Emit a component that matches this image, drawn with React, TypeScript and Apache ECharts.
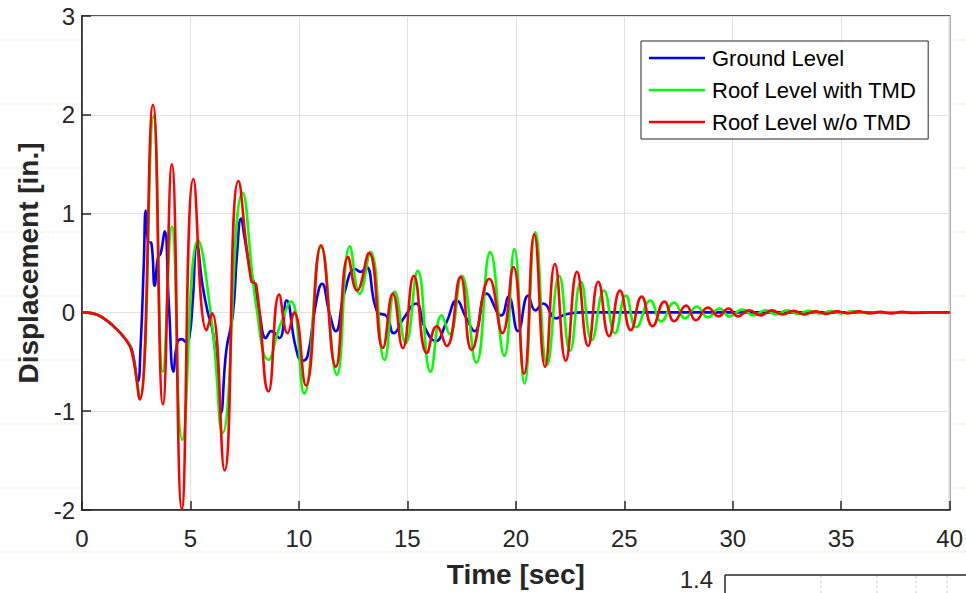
import React, { useEffect, useRef } from "react";
import * as echarts from "echarts";

const xTicks = [0, 5, 10, 15, 20, 25, 30, 35, 40];
const yTicks = [-2, -1, 0, 1, 2, 3];
const seriesNames = ["Ground Level", "Roof Level with TMD", "Roof Level w/o TMD"];

const groundLevel: [number, number][] = [
  [0, 0], [0.5, -0.01], [1.0, -0.06], [1.5, -0.15], [2.0, -0.27], [2.3, -0.38], [2.57, -0.7],
  [2.7, -0.35], [2.85, 0.5], [2.94, 1.03], [3.05, 0.72], [3.2, 0.7], [3.35, 0.27], [3.5, 0.55],
  [3.63, 0.6], [3.81, 0.82], [4.0, 0.1], [4.22, -0.6], [4.4, -0.3], [4.6, -0.27], [4.8, -0.3],
  [4.95, -0.25], [5.1, 0.1], [5.3, 0.68], [5.56, 0.27], [5.8, 0.0], [6.0, -0.16], [6.2, -0.5],
  [6.4, -1.02], [6.65, -0.39], [6.95, -0.03], [7.15, 0.6], [7.33, 0.95], [7.5, 0.75], [7.72, 0.47],
  [7.95, 0.27], [8.17, 0.01], [8.48, -0.26], [8.72, -0.19], [9.1, -0.26], [9.43, 0.12], [9.86, -0.36],
  [10.15, -0.49], [10.4, -0.44], [10.75, 0.05], [11.07, 0.29], [11.4, 0.0], [11.7, -0.19], [12.1, 0.2],
  [12.6, 0.44], [12.85, 0.41], [13.1, 0.46], [13.6, 0.01], [14.05, -0.04], [14.37, -0.21], [14.83, -0.06],
  [15.4, 0.09], [15.8, -0.15], [16.3, -0.29], [16.8, -0.1], [17.27, 0.12], [17.7, -0.05], [18.1, -0.19],
  [18.65, 0.19], [19.33, -0.03], [19.66, 0.16], [20.1, -0.19], [20.57, 0.17], [20.9, 0.02], [21.26, 0.09],
  [21.86, -0.06], [22.3, -0.02], [23.0, 0], [40, 0],
];

const roofWithTMD: [number, number][] = [
  [0, 0], [0.5, -0.01], [1.0, -0.06], [1.5, -0.15], [2.0, -0.27], [2.3, -0.4], [2.66, -0.87],
  [3.3, 1.98], [3.73, -0.6], [4.14, 0.87], [4.62, -1.29], [5.35, 0.73], [6.0, -0.13], [6.48, -1.22],
  [7.4, 1.21], [8.03, 0.07], [8.6, -0.48], [9.1, -0.15], [9.64, 0.11], [10.24, -0.82], [11.02, 0.66],
  [11.75, -0.63], [12.35, 0.67], [12.8, 0.19], [13.3, 0.61], [13.95, -0.48], [14.42, 0.21], [14.92, -0.31],
  [15.48, 0.42], [16.07, -0.6], [16.58, -0.03], [16.95, -0.22], [17.5, 0.37], [18.18, -0.51], [18.82, 0.61],
  [19.47, -0.44], [19.93, 0.64], [20.4, -0.72], [20.9, 0.81], [21.45, -0.53], [22.0, 0.37], [22.5, -0.39],
  [23.0, 0.31], [23.5, -0.28], [24.06, 0.22], [24.57, -0.21], [25.07, 0.17], [25.55, -0.15], [26.2, 0.12],
  [26.7, -0.09], [27.3, 0.1], [27.8, -0.06], [28.35, 0.06], [28.85, -0.05], [29.4, 0.04], [29.85, -0.04],
  [30.45, 0.03], [30.95, -0.03], [31.5, 0.02], [32.0, -0.02], [32.5, 0.02], [33.0, -0.015], [33.5, 0.015],
  [34.0, -0.01], [34.5, 0.01], [35.0, -0.01], [35.5, 0.01], [36.0, -0.005], [37.0, 0], [40, 0],
];

const roofWithoutTMD: [number, number][] = [
  [0, 0], [0.5, -0.01], [1.0, -0.06], [1.5, -0.15], [2.0, -0.27], [2.3, -0.4], [2.66, -0.88],
  [3.27, 2.1], [3.73, -0.93], [4.14, 1.5], [4.6, -1.99], [5.14, 1.35], [5.74, -0.18], [6.0, -0.01],
  [6.57, -1.6], [7.21, 1.33], [7.8, 0.32], [8.03, 0.28], [8.6, -0.8], [9.09, 0.18], [9.48, -0.21],
  [9.78, 0.0], [10.32, -0.74], [11.02, 0.68], [11.7, -0.55], [12.27, 0.56], [12.68, 0.22], [13.23, 0.6],
  [13.87, -0.36], [14.33, 0.19], [14.79, -0.36], [15.3, 0.37], [15.9, -0.41], [16.35, -0.14], [16.81, -0.34],
  [17.45, 0.36], [17.96, -0.38], [18.78, 0.34], [19.38, -0.21], [19.89, 0.46], [20.38, -0.62], [20.85, 0.79],
  [21.35, -0.55], [21.8, 0.49], [22.3, -0.49], [22.82, 0.41], [23.33, -0.34], [23.8, 0.31], [24.3, -0.24],
  [24.8, 0.22], [25.3, -0.18], [25.8, 0.16], [26.3, -0.14], [26.85, 0.11], [27.3, -0.09], [27.85, 0.07],
  [28.3, -0.08], [28.85, 0.05], [29.35, -0.04], [29.8, 0.04], [30.25, -0.04], [30.75, 0.02], [31.3, -0.03],
  [31.8, 0.02], [32.3, -0.02], [32.8, 0.015], [33.3, -0.02], [33.8, 0.01], [34.3, -0.015], [34.8, 0.01],
  [35.3, -0.01], [35.8, 0.01], [36.3, -0.01], [36.8, 0.005], [37.3, -0.01], [37.8, 0.005], [38.3, -0.005],
  [39.0, 0], [40, 0],
];

const FONT = "'Liberation Sans', Arial, Helvetica, sans-serif";
const AX = "#262626";

export default function App() {
  const ref = useRef<HTMLDivElement>(null);
  useEffect(() => {
    if (!ref.current) return;
    const chart = echarts.init(ref.current, null, { renderer: "svg" });
    const beige = { stroke: "#efe4d2", lineWidth: 1, lineDash: [2, 2] };
    const hLines = [40, 104, 168, 232, 296, 360, 424, 488, 552].map((y) => ({
      type: "line", z: -10, silent: true,
      shape: { x1: 0, y1: y, x2: 966, y2: y }, style: beige,
    }));
    const option: any = {
      animation: false,
      backgroundColor: "#ffffff",
      textStyle: { fontFamily: FONT },
      grid: {
        left: 82, top: 16, right: 13, bottom: 80, containLabel: false,
        show: true, backgroundColor: "#ffffff", borderColor: AX, borderWidth: 1.5, z: 0,
      },
      legend: {
        orient: "vertical", left: 641, top: 41,
        backgroundColor: "#ffffff", borderColor: AX, borderWidth: 1,
        padding: [6, 12, 6, 8], itemGap: 10, itemWidth: 56, itemHeight: 2.5,
        icon: "rect",
        textStyle: { fontSize: 22, lineHeight: 22, height: 22, color: "#000", fontFamily: FONT, padding: [0, 0, 0, 2] },
        data: seriesNames.map((n) => ({ name: n, icon: "rect" })),
      },
      xAxis: {
        type: "value", min: xTicks[0], max: xTicks[xTicks.length - 1], interval: 5,
        name: "Time [sec]", nameLocation: "middle", nameGap: 50,
        nameTextStyle: { fontSize: 28, fontWeight: "bold", color: AX, fontFamily: FONT },
        axisLine: { show: true, onZero: false, lineStyle: { color: AX, width: 1.5 } },
        axisTick: { show: true, inside: true, length: 9, lineStyle: { color: AX, width: 1.5 } },
        axisLabel: { fontSize: 24, color: AX, margin: 16, fontFamily: FONT },
        splitLine: { show: true, lineStyle: { color: "#e1e1e1", width: 1 } },
      },
      yAxis: {
        type: "value", min: yTicks[0], max: yTicks[yTicks.length - 1], interval: 1,
        name: "Displacement [in.]", nameLocation: "middle", nameGap: 40,
        nameTextStyle: { fontSize: 28, fontWeight: "bold", color: AX, fontFamily: FONT },
        axisLine: { show: true, onZero: false, lineStyle: { color: AX, width: 1.5 } },
        axisTick: { show: true, inside: true, length: 9, lineStyle: { color: AX, width: 1.5 } },
        axisLabel: { fontSize: 24, color: AX, margin: 7, fontFamily: FONT },
        splitLine: { show: true, lineStyle: { color: "#e1e1e1", width: 1 } },
      },
      graphic: [
        ...hLines,
        { type: "text", silent: true, style: { text: "1.4", x: 713, y: 579, align: "right", verticalAlign: "middle", fontSize: 24, fontFamily: FONT, fill: AX } },
        { type: "line", silent: true, shape: { x1: 725, y1: 575, x2: 966, y2: 575 }, style: { stroke: AX, lineWidth: 1.5 } },
        { type: "line", silent: true, shape: { x1: 725, y1: 575, x2: 725, y2: 593 }, style: { stroke: AX, lineWidth: 1.5 } },
        ...[821, 877, 916, 947].map((x) => ({
          type: "line", silent: true, shape: { x1: x, y1: 576, x2: x, y2: 593 },
          style: { stroke: "#c8c8c8", lineWidth: 1, lineDash: [2, 3] },
        })),
      ],
      series: [
        { name: seriesNames[0], type: "line", data: groundLevel, showSymbol: false, symbol: "none", smooth: 0.5, lineStyle: { color: "#0000ff", width: 2.6 }, itemStyle: { color: "#0000ff" } },
        { name: seriesNames[1], type: "line", data: roofWithTMD, showSymbol: false, symbol: "none", smooth: 0.5, lineStyle: { color: "#00ff00", width: 2.6 }, itemStyle: { color: "#00ff00" } },
        { name: seriesNames[2], type: "line", data: roofWithoutTMD, showSymbol: false, symbol: "none", smooth: 0.5, lineStyle: { color: "#ff0000", width: 2.6 }, itemStyle: { color: "#ff0000" } },
      ],
    };
    chart.setOption(option);
    return () => chart.dispose();
  }, []);
  return <div ref={ref} style={{ position: "absolute", left: 0, top: 0, width: 966, height: 593 }} />;
}
